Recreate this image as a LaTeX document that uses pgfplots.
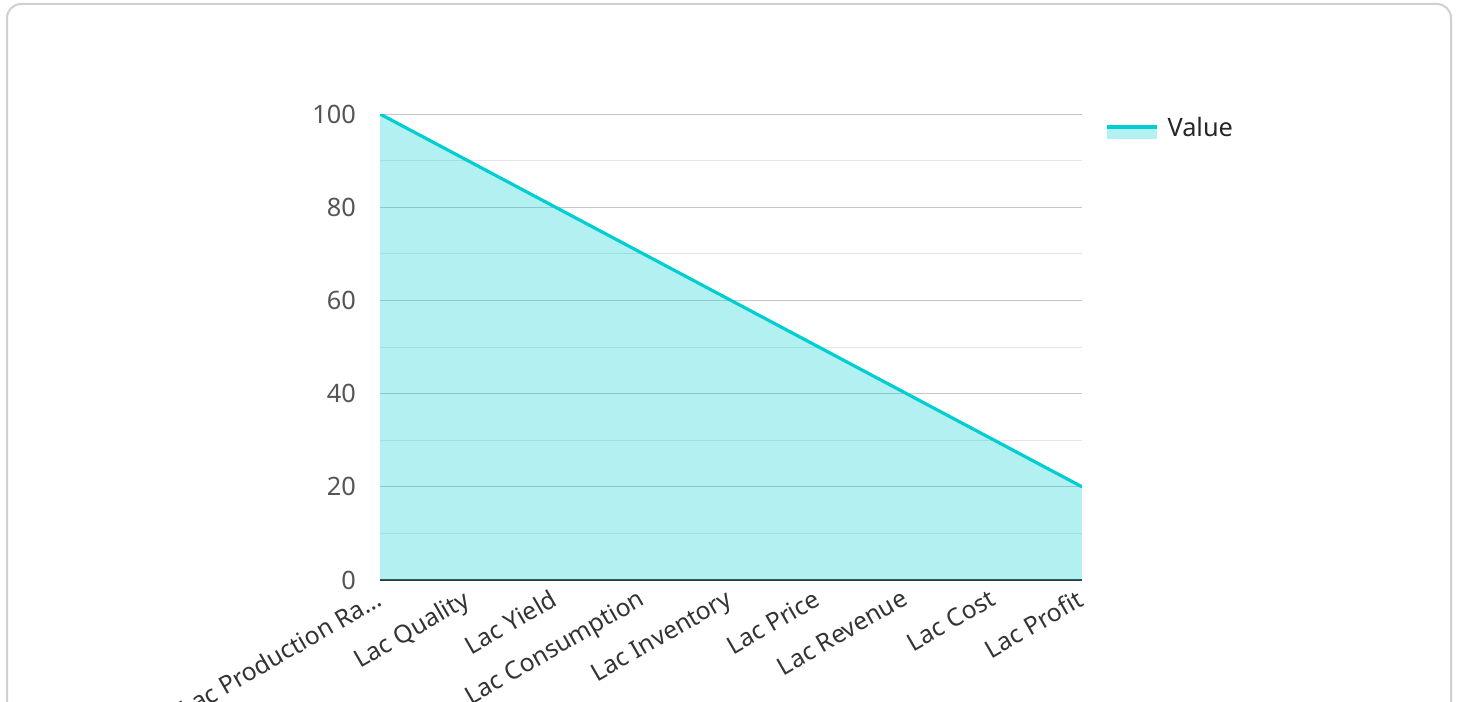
\documentclass[border=0pt]{standalone}
\usepackage{fontspec}
\setmainfont{Noto Sans}
\usepackage{pgfplots}
\pgfplotsset{compat=1.18}
\definecolor{tq}{RGB}{0,206,209}
\definecolor{frame}{RGB}{208,208,208}
\definecolor{ylab}{RGB}{85,85,85}
\definecolor{xlab}{RGB}{51,51,51}
\begin{document}
\begin{tikzpicture}[x=0.75pt,y=0.75pt]
\useasboundingbox (0,0) rectangle (1458,701);
\clip (0,0) rectangle (1458,701);
\draw[color=frame, line width=1.5pt, rounded corners=10.5pt] (7,-20) rectangle (1451,697);
\begin{axis}[
  at={(285pt,90.75pt)}, anchor=south west,
  scale only axis, width=526.5pt, height=349.5pt,
  xmin=0, xmax=8, ymin=0, ymax=100,
  xtick={0,...,8},
  xticklabels={Lac Production Ra\dots,Lac Quality,Lac Yield,Lac Consumption,Lac Inventory,Lac Price,Lac Revenue,Lac Cost,Lac Profit},
  ytick={0,20,...,100}, minor ytick={10,30,...,90},
  ymajorgrids, yminorgrids,
  major grid style={color=black!22, line width=0.75pt},
  minor grid style={color=black!10, line width=0.75pt},
  axis x line=bottom, axis y line=left,
  axis line style={-},
  x axis line style={color=xlab, line width=2.2pt},
  y axis line style={draw=none},
  major tick length=0pt, minor tick length=0pt,
  tick style={draw=none},
  /pgf/number format/assume math mode=true,
  yticklabel style={color=ylab, font=\fontsize{19}{21}\selectfont, xshift=-14.5pt},
  xticklabel style={color=xlab, font=\fontsize{18.5}{21}\selectfont, rotate=30, anchor=north east, inner sep=1pt, xshift=-6pt, yshift=-2pt},
  legend style={at={(1.030,1.005)}, anchor=north west, draw=none, fill=none, font=\fontsize{19}{21}\selectfont, text=black!85},
  legend cell align=left,
]
\addplot[draw=none, fill=tq, fill opacity=0.3, forget plot] coordinates {(0,100) (1,90) (2,80) (3,70) (4,60) (5,50) (6,40) (7,30) (8,20)} \closedcycle;
\addplot[color=tq, line width=2.4pt, mark=none,
  legend image code/.code={
    \fill[draw=none, fill=tq, fill opacity=0.3] (0pt,-8pt) rectangle (37.5pt,1pt);
    \fill[draw=none, fill=tq] (0pt,-0.5pt) rectangle (37.5pt,2.3pt);
    \path (42pt,0pt);
  }] coordinates {(0,100) (1,90) (2,80) (3,70) (4,60) (5,50) (6,40) (7,30) (8,20)};
\addlegendentry{Value}
\end{axis}
\end{tikzpicture}
\end{document}
